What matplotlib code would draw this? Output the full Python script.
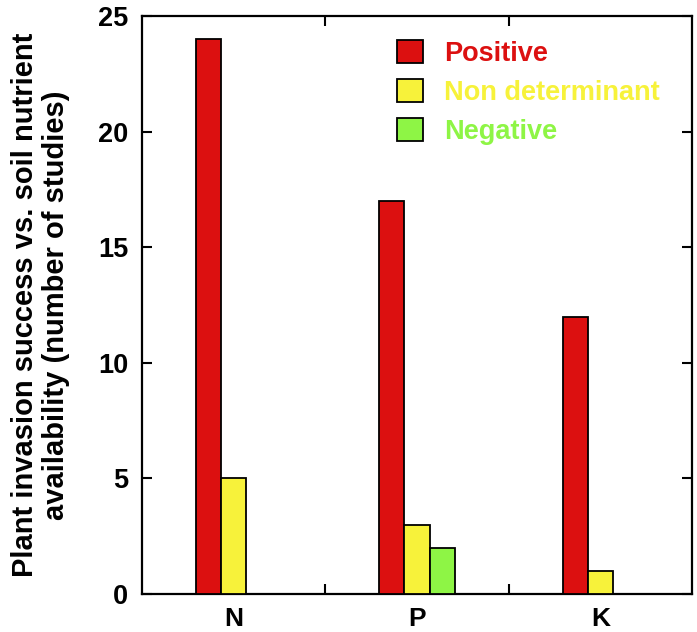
import matplotlib.pyplot as plt
import numpy as np

plt.rcParams['font.family'] = ['Liberation Sans', 'DejaVu Sans']
plt.rcParams['font.weight'] = 'bold'

nutrients = ['N', 'P', 'K']
series = ['Positive', 'Non determinant', 'Negative']
positive = [24, 17, 12]
non_determinant = [5, 3, 1]
negative = [0, 2, 0]
colors = ['#dc1010', '#f7f23a', '#8ef545']

fig = plt.figure(figsize=(6.97, 6.32), dpi=100)
ax = fig.add_axes([0.2037, 0.0601, 0.789, 0.9146])

x = np.arange(len(nutrients))
w = 0.137
handles = []
for i, (vals, c, lab) in enumerate(zip([positive, non_determinant, negative], colors, series)):
    vals = np.array(vals, dtype=float)
    mask = vals > 0
    b = ax.bar(x[mask] + (i - 1) * w, vals[mask], width=w, color=c,
               edgecolor='black', linewidth=1.3, label=lab, zorder=3)
    handles.append(b)

ax.set_xlim(-0.5, 2.5)
ax.set_ylim(0, 25)
ax.set_yticks([0, 5, 10, 15, 20, 25])
ax.set_xticks(x)
ax.set_xticklabels(nutrients)
ax.set_xticks([0.5, 1.5], minor=True)
ax.tick_params(axis='x', which='major', length=0, labelsize=19, pad=9)
ax.tick_params(axis='x', which='minor', direction='in', length=7, width=1.5,
               top=True, bottom=True)
ax.tick_params(axis='y', direction='in', length=7, width=1.5, labelsize=19.5,
               left=True, right=True, pad=10)
for s in ax.spines.values():
    s.set_linewidth(1.6)

ax.set_ylabel('Plant invasion success vs. soil nutrient\navailability (number of studies)',
              fontsize=21, fontweight='bold', labelpad=20, linespacing=1.15)

leg = ax.legend(handles=handles, loc='upper left', bbox_to_anchor=(0.42, 1.0),
                frameon=False, fontsize=19.5, handlelength=0.93, handleheight=0.93,
                handletextpad=0.8, labelspacing=0.45)
for t, c in zip(leg.get_texts(), colors):
    t.set_color(c)
    t.set_fontweight('bold')

fig.savefig('out.png', dpi=100)
